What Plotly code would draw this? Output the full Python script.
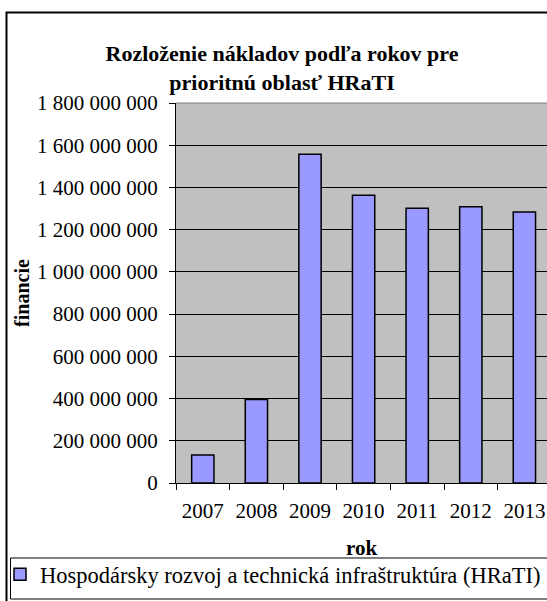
import plotly.graph_objects as go

years = ["2007", "2008", "2009", "2010", "2011", "2012", "2013"]
values = [133000000, 395000000, 1557000000, 1363000000, 1301000000, 1309000000, 1284000000]
series_name = "Hospodársky rozvoj a technická infraštruktúra (HRaTI)"
y_ticks = [0, 200000000, 400000000, 600000000, 800000000, 1000000000,
           1200000000, 1400000000, 1600000000, 1800000000]

W, H = 547, 601
L, R, T, B = 176, 0, 103, 118
pw = W - L - R
ph = H - T - B
FONT = "Liberation Serif, Times New Roman, serif"


def px_x(p):
    return (p - L) / pw


def px_y(p):
    return (H - B - p) / ph


fig = go.Figure()
fig.add_trace(go.Bar(
    x=years, y=values, name=series_name,
    marker=dict(color="#9999FF", line=dict(color="black", width=1.5)),
    showlegend=True,
))

fig.update_layout(
    width=W, height=H,
    margin=dict(l=L, r=R, t=T, b=B, autoexpand=False),
    paper_bgcolor="white",
    plot_bgcolor="#C0C0C0",
    separators=". ",
    font=dict(family=FONT, size=21, color="black"),
    bargap=0.584,
    title=dict(
        text="<b>Rozloženie nákladov podľa rokov pre<br>prioritnú oblasť HRaTI</b>",
        x=282 / W, xanchor="center", xref="container",
        y=1 - 61 / H, yanchor="middle", yref="container",
        font=dict(family=FONT, size=22, color="black"),
    ),
    xaxis=dict(
        type="category", range=[-0.5, -0.5 + pw / 53.6],
        tickson="boundaries", ticks="outside", ticklen=6, tickcolor="black",
        showline=True, linecolor="black", linewidth=1,
        showgrid=False, tickfont=dict(family=FONT, size=21),
        ticklabelstandoff=9,
        title=dict(text="<b>rok</b>", font=dict(family=FONT, size=21), standoff=18),
        automargin=False,
    ),
    yaxis=dict(
        range=[0, 1800000000], tickvals=y_ticks, tickformat=",d",
        ticks="outside", ticklen=6, tickcolor="black",
        showline=True, linecolor="black", linewidth=1,
        showgrid=True, gridcolor="black", gridwidth=1,
        zeroline=False, ticklabelstandoff=7,
        tickfont=dict(family=FONT, size=21),
        title=dict(text="<b>financie</b>", font=dict(family=FONT, size=20), standoff=2),
        automargin=False,
    ),
    legend=dict(
        x=px_x(0), xanchor="left", y=px_y(553), yanchor="top",
        bgcolor="rgba(0,0,0,0)", borderwidth=0,
        font=dict(family=FONT, size=22.5),
    ),
    shapes=[
        # outer chart frame
        dict(type="rect", xref="paper", yref="paper",
             x0=px_x(6.5), x1=px_x(W + 20), y0=px_y(H + 20), y1=px_y(12.5),
             line=dict(color="black", width=2), fillcolor="rgba(0,0,0,0)", layer="below"),
        # legend box
        dict(type="rect", xref="paper", yref="paper",
             x0=px_x(10.5), x1=px_x(W + 20), y0=px_y(599), y1=px_y(558),
             line=dict(color="black", width=1), fillcolor="rgba(0,0,0,0)", layer="above"),
        # plot area top border
        dict(type="line", xref="paper", yref="paper",
             x0=0, x1=1, y0=1, y1=1, line=dict(color="#808080", width=1)),
    ],
)

fig.write_html("out.html", config={"displayModeBar": False},
               post_script="document.body.style.margin='0';")
